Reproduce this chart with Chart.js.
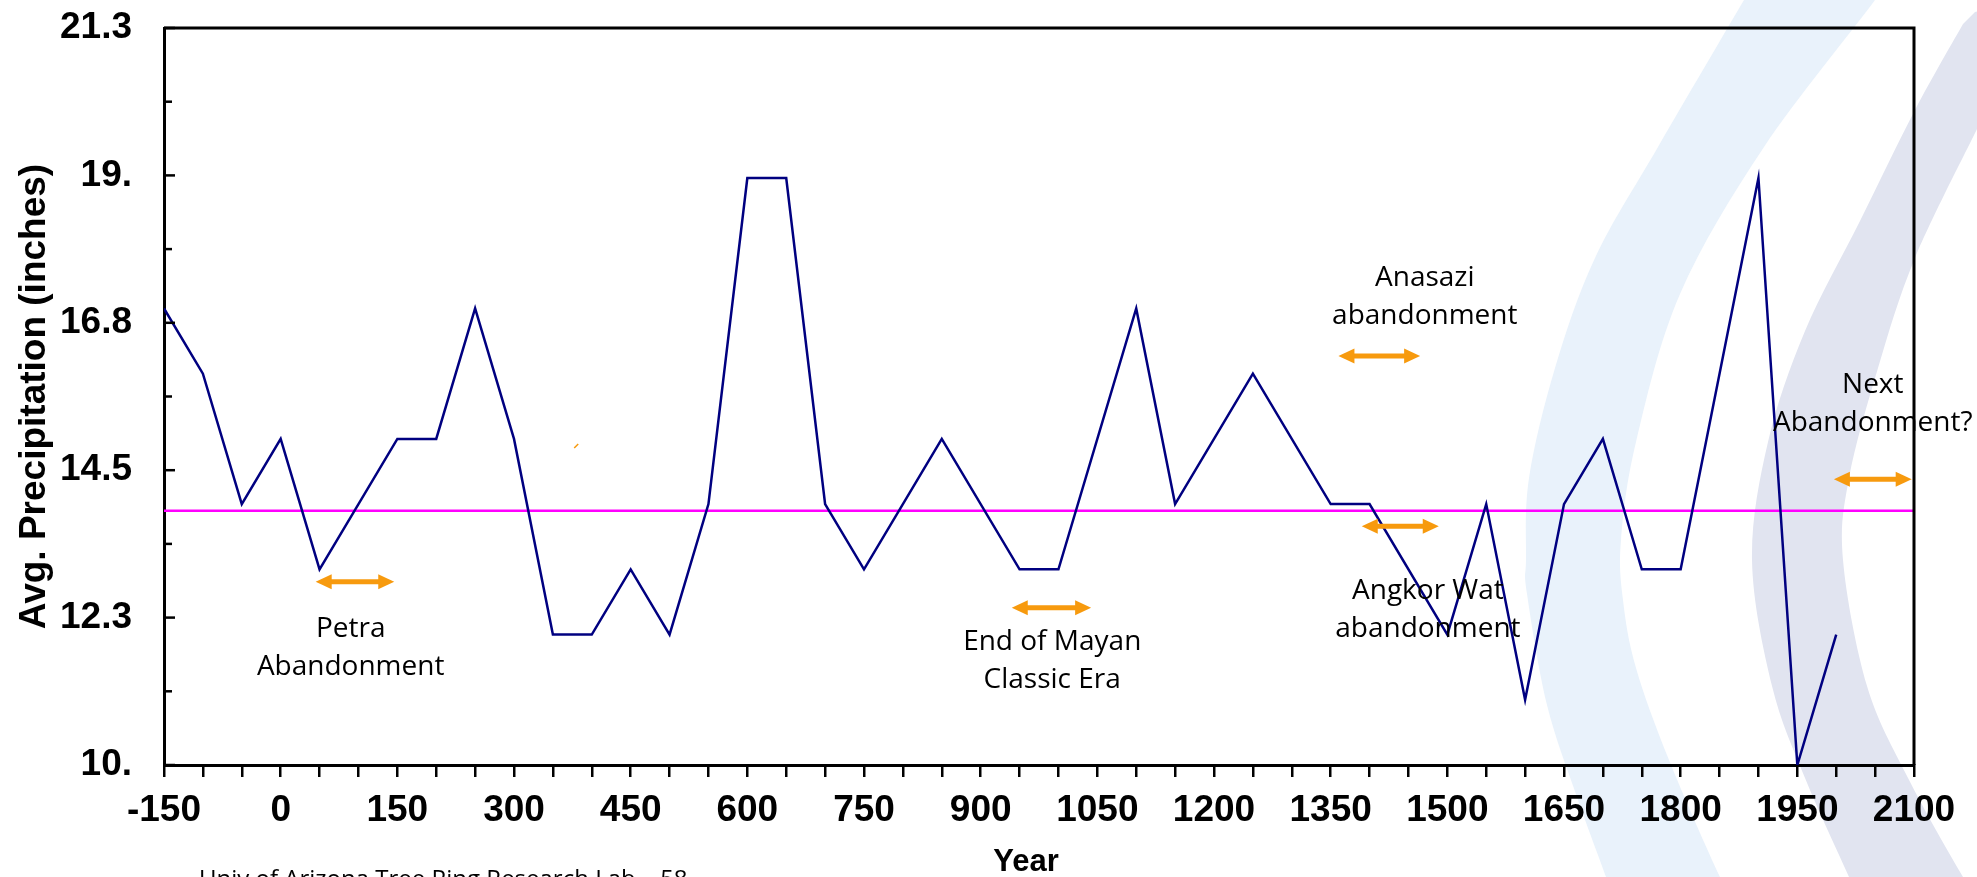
<!DOCTYPE html>
<html>
<head>
<meta charset="utf-8">
<script src="https://cdn.jsdelivr.net/npm/chart.js@4.4.1/dist/chart.umd.min.js"></script>
<style>
  html, body { margin: 0; padding: 0; background: #fff; }
  canvas { display: block; }
</style>
</head>
<body>
<canvas id="chart" width="1977" height="877"></canvas>
<script>
// tree ring precipitation record (only the corners of the line)
const years  = [-150, -100, -50, 0, 50, 150, 200, 250, 300, 350, 400, 450, 500, 550, 600, 650, 700, 750, 850, 950, 1000, 1100, 1150, 1250, 1350, 1400, 1500, 1550, 1600, 1650, 1700, 1750, 1800, 1900, 1950, 2000];
const precip = [17, 16, 14, 15, 13, 15, 15, 17, 15, 12, 12, 13, 12, 14, 19, 19, 14, 13, 15, 13, 13, 17, 14, 16, 14, 14, 12, 14, 11, 14, 15, 13, 13, 19, 10, 12];

// magenta reference level
const meanYears  = [-150, 2100];
const meanPrecip = [13.9, 13.9];

// axis ticks
const xLabelValues = [-150, 0, 150, 300, 450, 600, 750, 900, 1050, 1200, 1350, 1500, 1650, 1800, 1950, 2100];
const yTickValues  = [10, 12.26, 14.52, 16.78, 19.04, 21.3];
const yTickLabels  = ['10.', '12.3', '14.5', '16.8', '19.', '21.3'];
const yMinorValues = [11.13, 13.39, 15.65, 17.91, 20.17];

// abandonment events: arrow span (years), arrow level, label anchor
const eventNames = [['Petra', 'Abandonment'], ['End of Mayan', 'Classic Era'], ['Anasazi', 'abandonment'], ['Angkor Wat', 'abandonment'], ['Next', 'Abandonment?']];
const arrowFrom  = [45, 940, 1360, 1390, 1997];
const arrowTo    = [146, 1042, 1465, 1489, 2097];
const arrowLevel = [12.81, 12.41, 16.27, 13.66, 14.38];
const labelYear  = [90, 992, 1471, 1475, 2047];
const labelLevel = [12.09, 11.89, 17.47, 12.67, 15.83];

// stray orange speck left on the slide
const speckYear = 380, speckLevel = 14.89;

const ORANGE = '#F79A0E';
const AXIS_FONT = '"Liberation Sans", Arial, sans-serif';

// smooth curve through points (catmull-rom)
function curveThrough(ctx, pts, move) {
  if (move) ctx.moveTo(pts[0][0], pts[0][1]); else ctx.lineTo(pts[0][0], pts[0][1]);
  for (let i = 0; i < pts.length - 1; i++) {
    const p0 = pts[i - 1] || pts[i], p1 = pts[i], p2 = pts[i + 1], p3 = pts[i + 2] || p2;
    ctx.bezierCurveTo(
      p1[0] + (p2[0] - p0[0]) / 6, p1[1] + (p2[1] - p0[1]) / 6,
      p2[0] - (p3[0] - p1[0]) / 6, p2[1] - (p3[1] - p1[1]) / 6,
      p2[0], p2[1]);
  }
}

// slide template swooshes behind the chart
const backdrop = {
  id: 'backdrop',
  beforeDraw(chart) {
    const ctx = chart.ctx;
    ctx.save();
    ctx.fillStyle = '#fff';
    ctx.fillRect(0, 0, chart.width, chart.height);

    const blueOuter = [[1762, -30], [1744, 0], [1658, 147], [1595, 258], [1555, 368], [1529, 478], [1526, 560], [1527, 594], [1547, 705], [1577, 797], [1606, 877], [1617, 910]];
    const blueInner = [[1893, -30], [1875, 0], [1764, 147], [1680, 294], [1636, 442], [1621, 540], [1623, 600], [1636, 668], [1669, 760], [1720, 877], [1740, 910]];
    ctx.beginPath();
    curveThrough(ctx, blueOuter, true);
    curveThrough(ctx, blueInner.slice().reverse(), false);
    ctx.closePath();
    ctx.fillStyle = '#E9F2FB';
    ctx.fill();

    const greyOuter = [[1963, 24], [1915, 110], [1860, 221], [1805, 331], [1768, 442], [1752, 560], [1772, 686], [1805, 778], [1849, 877], [1862, 910]];
    const greyInner = [[1977, 129], [1915, 258], [1878, 368], [1849, 478], [1843, 560], [1867, 686], [1908, 778], [1963, 877], [1985, 910]];
    ctx.beginPath();
    curveThrough(ctx, greyOuter, true);
    curveThrough(ctx, greyInner.slice().reverse(), false);
    ctx.lineTo(1995, 129);
    ctx.lineTo(1995, 8);
    ctx.lineTo(1975, 12);
    ctx.closePath();
    ctx.fillStyle = '#E1E4F0';
    ctx.fill();
    ctx.restore();
  }
};

function drawArrow(ctx, x1, x2, y) {
  const head = 16, half = 7.5;
  ctx.strokeStyle = ORANGE;
  ctx.fillStyle = ORANGE;
  ctx.lineWidth = 5;
  ctx.beginPath();
  ctx.moveTo(x1 + head - 2, y);
  ctx.lineTo(x2 - head + 2, y);
  ctx.stroke();
  ctx.beginPath();
  ctx.moveTo(x1, y); ctx.lineTo(x1 + head, y - half); ctx.lineTo(x1 + head, y + half); ctx.closePath();
  ctx.fill();
  ctx.beginPath();
  ctx.moveTo(x2, y); ctx.lineTo(x2 - head, y - half); ctx.lineTo(x2 - head, y + half); ctx.closePath();
  ctx.fill();
}

const overlay = {
  id: 'overlay',
  afterDraw(chart) {
    const ctx = chart.ctx;
    const xs = chart.scales.x, ys = chart.scales.y;
    const area = chart.chartArea;
    ctx.save();

    // top and right frame
    ctx.strokeStyle = '#000';
    ctx.lineWidth = 3;
    ctx.beginPath();
    ctx.moveTo(area.left, area.top);
    ctx.lineTo(area.right, area.top);
    ctx.lineTo(area.right, area.bottom);
    ctx.stroke();

    // y ticks pointing inward
    ctx.lineWidth = 2.5;
    yTickValues.forEach(v => {
      const y = ys.getPixelForValue(v);
      ctx.beginPath(); ctx.moveTo(area.left, y); ctx.lineTo(area.left + 11, y); ctx.stroke();
    });
    yMinorValues.forEach(v => {
      const y = ys.getPixelForValue(v);
      ctx.beginPath(); ctx.moveTo(area.left, y); ctx.lineTo(area.left + 8, y); ctx.stroke();
    });

    // event arrows and labels
    ctx.font = '28px "Open Sans", sans-serif';
    ctx.textAlign = 'center';
    ctx.textBaseline = 'middle';
    eventNames.forEach((lines, i) => {
      drawArrow(ctx, xs.getPixelForValue(arrowFrom[i]), xs.getPixelForValue(arrowTo[i]), ys.getPixelForValue(arrowLevel[i]));
      const cx = xs.getPixelForValue(labelYear[i]);
      const cy = ys.getPixelForValue(labelLevel[i]);
      ctx.fillStyle = '#000';
      lines.forEach((t, j) => ctx.fillText(t, cx, cy + j * 38));
    });

    // tiny orange speck
    const sx = xs.getPixelForValue(speckYear), sy = ys.getPixelForValue(speckLevel);
    ctx.strokeStyle = ORANGE;
    ctx.lineWidth = 1.5;
    ctx.beginPath(); ctx.moveTo(sx - 2, sy + 2); ctx.lineTo(sx + 2, sy - 2); ctx.stroke();

    // axis titles
    ctx.fillStyle = '#000';
    ctx.font = 'bold 37px ' + AXIS_FONT;
    ctx.save();
    ctx.translate(35, (area.top + area.bottom) / 2);
    ctx.rotate(-Math.PI / 2);
    ctx.fillText('Avg. Precipitation (inches)', 0, 0);
    ctx.restore();
    ctx.font = 'bold 31px ' + AXIS_FONT;
    ctx.fillText('Year', 1026, 862);

    // source line, cut by the slide edge
    ctx.font = '24px "Open Sans", sans-serif';
    ctx.textAlign = 'left';
    ctx.textBaseline = 'alphabetic';
    ctx.fillText('Univ of Arizona Tree Ring Research Lab \u2013 58', 199, 887);
    ctx.restore();
  }
};

new Chart(document.getElementById('chart'), {
  type: 'line',
  data: {
    datasets: [
      {
        data: years.map((x, i) => ({ x, y: precip[i] })),
        borderColor: '#000080',
        borderWidth: 2.5,
        pointRadius: 0,
        tension: 0
      },
      {
        data: meanYears.map((x, i) => ({ x, y: meanPrecip[i] })),
        borderColor: '#FF00FF',
        borderWidth: 2.5,
        pointRadius: 0
      }
    ]
  },
  options: {
    responsive: false,
    animation: false,
    devicePixelRatio: 1,
    layout: { padding: { top: 28, right: 63, left: 0, bottom: 0 } },
    plugins: { legend: { display: false }, tooltip: { enabled: false } },
    scales: {
      x: {
        type: 'linear',
        min: -150,
        max: 2100,
        afterBuildTicks: s => {
          const marks = [];
          for (let v = -150; v <= 2100; v += 50) marks.push({ value: v });
          s.ticks = marks;
        },
        afterFit: s => { s.height = 112; s.paddingLeft = 0; s.paddingRight = 0; },
        ticks: {
          autoSkip: false,
          maxRotation: 0,
          padding: 12,
          color: '#000',
          font: { family: AXIS_FONT, size: 37, weight: 'bold' },
          callback: v => xLabelValues.includes(v) ? String(v) : ''
        },
        grid: { drawOnChartArea: false, drawTicks: true, tickLength: 12, color: '#000', lineWidth: 2.5 },
        border: { display: true, color: '#000', width: 3 }
      },
      y: {
        min: 10,
        max: 21.3,
        afterBuildTicks: s => { s.ticks = yTickValues.map(v => ({ value: v })); },
        afterFit: s => { s.width = 164; s.paddingTop = 0; s.paddingBottom = 0; },
        ticks: {
          padding: 24,
          color: '#000',
          font: { family: AXIS_FONT, size: 37, weight: 'bold' },
          callback: (v, i) => yTickLabels[i]
        },
        grid: { display: false },
        border: { display: true, color: '#000', width: 3 }
      }
    }
  },
  plugins: [backdrop, overlay]
});
</script>
</body>
</html>
